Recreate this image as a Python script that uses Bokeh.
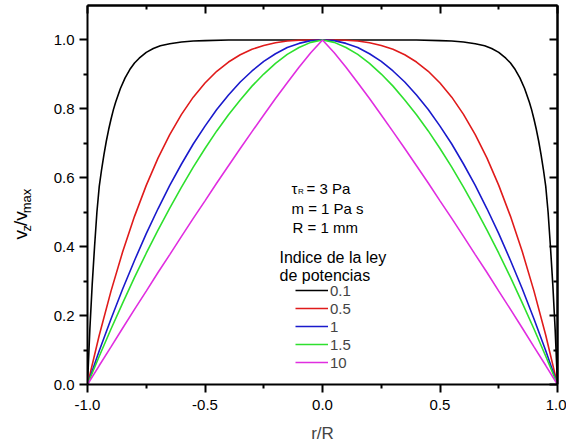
import math
from bokeh.plotting import figure
from bokeh.layouts import row
from bokeh.models import (LinearAxis, FixedTicker, PrintfTickFormatter, Label,
                          Legend, LegendItem, Range1d)
from bokeh.embed import file_html
from bokeh.resources import INLINE

FONT = "Liberation Sans"

# ---------------- data ----------------
r_grid = [-1.00, -0.95, -0.90, -0.85, -0.80, -0.75, -0.70, -0.65, -0.60, -0.55,
          -0.50, -0.45, -0.40, -0.35, -0.30, -0.25, -0.20, -0.15, -0.10, -0.05,
          0.00, 0.05, 0.10, 0.15, 0.20, 0.25, 0.30, 0.35, 0.40, 0.45,
          0.50, 0.55, 0.60, 0.65, 0.70, 0.75, 0.80, 0.85, 0.90, 0.95, 1.00]

v_n05 = [0.000, 0.143, 0.271, 0.386, 0.488, 0.578, 0.657, 0.725, 0.784, 0.834,
         0.875, 0.909, 0.936, 0.957, 0.973, 0.984, 0.992, 0.997, 0.999, 1.000,
         1.000, 1.000, 0.999, 0.997, 0.992, 0.984, 0.973, 0.957, 0.936, 0.909,
         0.875, 0.834, 0.784, 0.725, 0.657, 0.578, 0.488, 0.386, 0.271, 0.143, 0.000]

v_n1 = [0.000, 0.098, 0.190, 0.278, 0.360, 0.438, 0.510, 0.578, 0.640, 0.698,
        0.750, 0.798, 0.840, 0.878, 0.910, 0.938, 0.960, 0.978, 0.990, 0.998,
        1.000, 0.998, 0.990, 0.978, 0.960, 0.938, 0.910, 0.878, 0.840, 0.798,
        0.750, 0.698, 0.640, 0.578, 0.510, 0.438, 0.360, 0.278, 0.190, 0.098, 0.000]

v_n15 = [0.000, 0.082, 0.161, 0.237, 0.311, 0.381, 0.448, 0.512, 0.573, 0.631,
         0.685, 0.736, 0.783, 0.826, 0.866, 0.901, 0.932, 0.958, 0.978, 0.993,
         1.000, 0.993, 0.978, 0.958, 0.932, 0.901, 0.866, 0.826, 0.783, 0.736,
         0.685, 0.631, 0.573, 0.512, 0.448, 0.381, 0.311, 0.237, 0.161, 0.082, 0.000]

v_n10 = [0.000, 0.055, 0.109, 0.164, 0.218, 0.271, 0.325, 0.377, 0.430, 0.482,
         0.533, 0.585, 0.635, 0.685, 0.734, 0.782, 0.830, 0.876, 0.921, 0.963,
         1.000, 0.963, 0.921, 0.876, 0.830, 0.782, 0.734, 0.685, 0.635, 0.585,
         0.533, 0.482, 0.430, 0.377, 0.325, 0.271, 0.218, 0.164, 0.109, 0.055, 0.000]

r_n01 = [-1.000, -0.990, -0.980, -0.970, -0.960, -0.950, -0.940, -0.930, -0.920, -0.910,
         -0.900, -0.890, -0.880, -0.860, -0.840, -0.820, -0.800, -0.780, -0.750, -0.720,
         -0.690, -0.650, -0.600, -0.550, -0.500, -0.400, 0.000,
         0.400, 0.500, 0.550, 0.600, 0.650, 0.690, 0.720, 0.750, 0.780, 0.800,
         0.820, 0.840, 0.860, 0.880, 0.890, 0.900, 0.910, 0.920, 0.930, 0.940,
         0.950, 0.960, 0.970, 0.980, 0.990, 1.000]
v_n01 = [0.000, 0.160, 0.290, 0.400, 0.500, 0.575, 0.624, 0.667, 0.706, 0.740,
         0.770, 0.797, 0.820, 0.859, 0.890, 0.914, 0.933, 0.947, 0.964, 0.975,
         0.983, 0.989, 0.994, 0.997, 0.998, 1.000, 1.000,
         1.000, 0.998, 0.997, 0.994, 0.989, 0.983, 0.975, 0.964, 0.947, 0.933,
         0.914, 0.890, 0.859, 0.820, 0.797, 0.770, 0.740, 0.706, 0.667, 0.624,
         0.575, 0.500, 0.400, 0.290, 0.160, 0.000]

series_labels = ["0.1", "0.5", "1", "1.5", "10"]
series_colors = ["#000000", "#e01b1b", "#1a1acc", "#2ee02e", "#e02ee0"]

x_major = [-1.0, -0.5, 0.0, 0.5, 1.0]
x_minor = [-0.75, -0.25, 0.25, 0.75]
y_major = [0.0, 0.2, 0.4, 0.6, 0.8, 1.0]
y_minor = [0.1, 0.3, 0.5, 0.7, 0.9]

LEFT_W = 45          # width of the strip holding the rotated y-axis title
FRAME_L = 87         # frame left edge in page pixels
FRAME_B = 384        # frame bottom edge in page pixels

# ---------------- main figure ----------------
p = figure(frame_width=470, frame_height=379, x_range=(-1.0, 1.0), y_range=(0.0, 1.1),
           output_backend="svg", toolbar_location=None,
           min_border_left=FRAME_L - LEFT_W, min_border_right=9,
           min_border_top=5, min_border_bottom=60)
p.grid.visible = False
p.outline_line_color = None


def base_axis(ax):
    ax.axis_line_width = 2
    ax.axis_line_color = "black"
    ax.major_tick_line_width = 2
    ax.minor_tick_line_width = 2
    ax.major_tick_line_color = "black"
    ax.minor_tick_line_color = "black"


xb = p.xaxis[0]
base_axis(xb)
xb.ticker = FixedTicker(ticks=x_major, minor_ticks=x_minor)
xb.formatter = PrintfTickFormatter(format="%.1f")
xb.major_tick_out, xb.major_tick_in = 8, 0
xb.minor_tick_out, xb.minor_tick_in = 4, 0
xb.major_label_text_font = FONT
xb.major_label_text_font_size = "15px"
xb.major_label_text_color = "black"
xb.major_label_standoff = 7
xb.axis_label = "r/R"
xb.axis_label_text_font = FONT
xb.axis_label_text_font_size = "17px"
xb.axis_label_text_font_style = "normal"
xb.axis_label_standoff = 11

yl = p.yaxis[0]
base_axis(yl)
yl.ticker = FixedTicker(ticks=y_major, minor_ticks=y_minor)
yl.formatter = PrintfTickFormatter(format="%.1f")
yl.major_tick_out, yl.major_tick_in = 8, 0
yl.minor_tick_out, yl.minor_tick_in = 4, 0
yl.major_label_text_font = FONT
yl.major_label_text_font_size = "15px"
yl.major_label_text_color = "black"
yl.major_label_standoff = 5

# top / right frame axes: inward ticks only, no labels
for side, majors, minors in (("above", x_major, x_minor), ("right", y_major, y_minor)):
    for positions, length in ((majors, 8), (minors, 4)):
        ax = LinearAxis(ticker=FixedTicker(ticks=[], minor_ticks=positions))
        base_axis(ax)
        ax.major_tick_out = 0
        ax.major_tick_in = 0
        ax.minor_tick_out = 0
        ax.minor_tick_in = length
        ax.major_label_standoff = 0
        p.add_layout(ax, side)

# ---------------- curves ----------------
curves = [(r_n01, v_n01), (r_grid, v_n05), (r_grid, v_n1), (r_grid, v_n15), (r_grid, v_n10)]
renderers = []
for (xs, ys), c in zip(curves, series_colors):
    renderers.append(p.line(xs, ys, line_color=c, line_width=1.6))

legend = Legend(items=[LegendItem(label=l, renderers=[r]) for l, r in zip(series_labels, renderers)],
                location=(208, 13), glyph_width=33, glyph_height=18, label_height=18,
                label_standoff=2, spacing=0, padding=0, margin=0,
                border_line_color=None, background_fill_alpha=0,
                label_text_font=FONT, label_text_font_size="15px")
p.add_layout(legend, "center")


def dx(px):
    return -1.0 + (px - FRAME_L) / 235.0


def dy(py):
    return (FRAME_B - py) / 344.5


def add_text(fig, x, y, txt, size, angle=0.0):
    fig.add_layout(Label(x=x, y=y, text=txt, text_font=FONT,
                         text_font_size=size, text_color="black", angle=angle,
                         text_align="left", text_baseline="alphabetic"))


# parameter block and legend heading
add_text(p, dx(291), dy(188), "τ", "15px")
add_text(p, dx(297.5), dy(191), "R", "8px")
add_text(p, dx(306), dy(188), "= 3 Pa", "15px")
add_text(p, dx(291), dy(208), "m = 1 Pa s", "15px")
add_text(p, dx(292), dy(227), "R = 1 mm", "15px")
add_text(p, dx(279), dy(257), "Indice de la ley", "16px")
add_text(p, dx(279), dy(275), "de potencias", "16px")

# ---------------- strip with the rotated y-axis title ----------------
lf = figure(width=LEFT_W, height=444, x_range=Range1d(0, LEFT_W), y_range=Range1d(444, 0),
            output_backend="svg", toolbar_location=None,
            min_border=0, min_border_left=0, min_border_right=0,
            min_border_top=0, min_border_bottom=0)
lf.axis.visible = False
lf.grid.visible = False
lf.outline_line_color = None

A = math.pi / 2
add_text(lf, 20, 275, "v", "19px", A)
add_text(lf, 26, 265.5, "z", "13px", A)
add_text(lf, 20, 259, "/v", "19px", A)
add_text(lf, 26, 244, "max", "13px", A)

layout = row(lf, p, spacing=0)
open("out.html", "w").write(file_html(layout, INLINE))
